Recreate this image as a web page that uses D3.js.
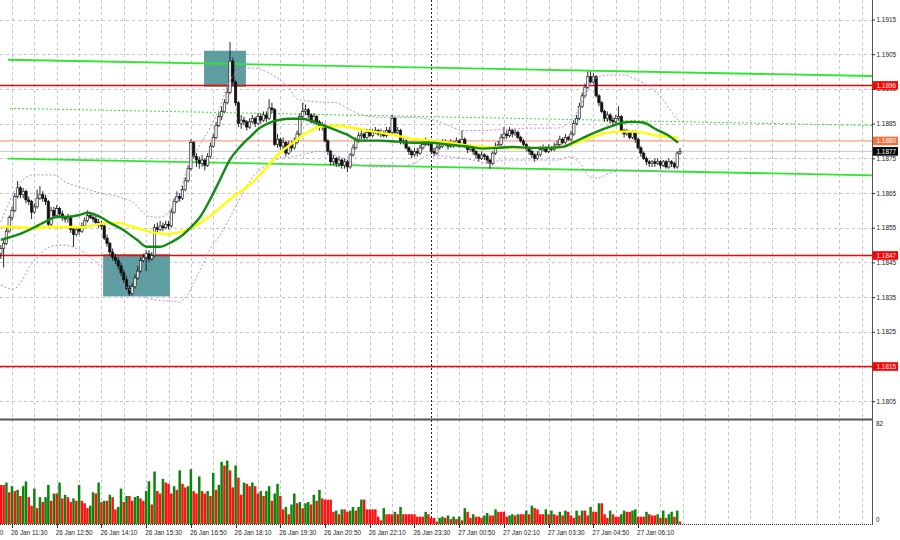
<!DOCTYPE html>
<html><head><meta charset="utf-8">
<script src="https://cdn.jsdelivr.net/npm/d3@7"></script>
<style>
html,body{margin:0;padding:0;background:#fff;}
svg{display:block;font-family:"Liberation Sans",Arial,sans-serif;}
</style></head><body>
<svg id="chart" width="900" height="540"></svg>
<script>
// ---------------- DATA ----------------
const startTime = "26 Jan 11:10";       // time of first visible M5 bar
const priceBase = 1.18;                 // prices below are pips above 1.1800
const firstOpen = 47.5;
const closes = [49,50.5,54,58,60,64,66.5,64.5,65.5,63,
62.5,59.5,61,63.5,64.5,63.5,62.5,56,60,58.5,
60.5,59,58,57.5,58,54.5,53,54.5,54,55.5,
57,58.5,58,57.5,56.5,56,55.5,52,50.5,48,
46.5,45.5,44,42,40,37.5,36,38,40.5,42.5,
45.5,46.5,47.5,46,47,55,54.5,55.5,55,56,
55.5,59.5,62.5,64,63.5,66,68.5,72,79.5,75.5,
74.5,73.5,74.5,73,75.5,78.5,81,84.5,87,88.5,
91,94,103,97,91,85,86,85.5,84,85.5,
86.5,85,87,86,87.5,86.5,89.5,89,79,80.5,
78.5,79.5,76.5,79,78,79.5,82,87,88.5,89,
87.5,86,87,85.5,84,84.5,80,77,74,75,
73.5,74.5,73,74,72.5,76,78,80,81.5,82,
81,82.5,81.5,82.5,83,82,82.5,81.5,83,82.5,
86.5,82.5,83,79.5,80,78,77,76,77,76.5,
78,79,80,79,77,76.5,78,78.5,79.5,79,
78.5,79.5,79,80,79,80.5,78.5,77.5,78,77,
76,75,76,75.5,74.5,73.5,76.5,78.5,79,81,
82,81.5,83,82,82.5,81,80,79,78,77,
76,75,76,77.5,78,77,78,77.5,78.5,79,
80.5,79.5,81,80.5,82,85,86.5,90,93,95.5,
98.5,97,98.5,93,91,88.5,86.5,87.5,86,85.5,
86.5,87,83,82,82.5,81,82.5,80.5,78,76.5,
75,74,73.5,74,73.5,74,73,74,72.5,74,
73.5,72.5,76.5,77];
const highs = [50,51.5,55,58.5,61,65,68.5,67,66.5,66,
64,63,62,66,67,65.5,64.5,63,61,61,
61.5,61,60,58.5,59,58.5,55,55.5,55,56.5,
58,60,59.5,59,58.5,57.5,57,56,53,51,
49,47.5,46.5,45,43,41,38.5,39,41.5,44,
46.5,47.5,48.5,48.5,48,56,56.5,57,56.5,57,
57,60.5,63.5,65.5,65,67,69.5,73,80.5,80,
76.5,75.5,76,75,76.5,79.5,82,85.5,88,90,
92,95.5,108.5,104,97.5,91.5,87.5,87,86,86.5,
87.5,87,88,88,88.5,88.5,92,91,89.5,82,
81,81,80,80,80,81,83,88,91,90.5,
89.5,88,88,87.5,86,85.5,85,80.5,77.5,76,
75.5,75.5,75,75,74.5,76.5,79,81,82.5,83.5,
82.5,83.5,83.5,83.5,84,83.5,83.5,83,84,84,
87.5,87,84,83.5,81,80.5,78.5,77.5,78,78,
79,80,81,80.5,79.5,78,79,79.5,80.5,80.5,
80,80.5,80,81,80.5,83,81,79,79,78.5,
77.5,76.5,77,76.5,76,75,77,79.5,80,82,
84,83,84,83.5,83.5,83,81.5,80.5,79.5,78.5,
77.5,76.5,77,78.5,79,78.5,79,78.5,79.5,80,
81.5,81,82,81.5,83,86,87.5,91,94,96.5,
100,100,99.5,99,93.5,91.5,89,88.5,88,87,
87.5,90,87.5,83.5,83.5,83,83,83,81,78.5,
77,75.5,74.5,74.5,75,75,74.5,74.5,74.5,75,
74.5,74,77,78];
const lows = [46,43.5,50,53.5,57,59.5,63.5,63.5,63.5,62,
61.5,57.5,59,60.5,63,62.5,61.5,55.5,55.5,58,
58,58,57,56.5,56.5,53.5,49.5,52.5,53,53.5,
55,56.5,57.5,56.5,56,55,54.5,51.5,49.5,47,
45.5,44.5,43,41,39,37,35.3,35.5,37.5,40,
42,45,42.5,45,45.5,46.5,53.5,54,54,54.5,
54.5,55,59,62,62.5,63,65.5,68,71.5,75,
72.5,72,72.5,71.5,72.5,75,78,80.5,84,86,
88,90.5,93.5,96,90,84,83.5,84.5,83,83.5,
85,84,84.5,85,85.5,85.5,86,88,78.5,78,
77.5,77.5,75.5,76,77,77.5,79,81.5,86.5,87.5,
86.5,85,85,84.5,83,83,79.5,76,73,73,
72.5,72.5,72,72,71,72,75.5,77.5,79.5,80.5,
80,80.5,81,81,82,81.5,81,81,81,82,
82,82,82,79,79,77.5,76,75,75.5,75.5,
76,77.5,78.5,78.5,76.5,75.5,76,77.5,78,78.5,
77.5,78,78,78.5,78,78.5,78,76.5,77,76,
75,74,74.5,74.5,73.5,72,73,76,78,78.5,
80.5,80.5,81,81,81.5,80.5,79.5,78.5,77,76,
75,74,74.5,75.5,77,76.5,76.5,77,77,78,
78.5,79,79,80,80,81.5,84.5,86,89.5,92.5,
95,96.5,96.5,92.5,90,88,85.5,85.5,85,84.5,
85,86,82.5,81,81.5,80.5,80.5,79.5,77.5,75.5,
74.5,73,72.5,72.5,72.5,73,72,72.5,72,72,
72.5,72,72,76];
const volumes = [32,32,34,26,31,27,28,23,31,35,
22,15,29,13,22,18,22,32,19,25,
25,34,21,24,22,18,21,19,32,19,
17,13,15,26,25,34,18,19,19,24,
22,12,14,29,18,23,23,19,22,23,
21,19,27,35,16,43,27,25,37,34,
33,25,31,28,44,33,30,31,45,27,
25,39,27,25,27,23,42,28,32,51,
48,52,44,30,48,38,24,34,33,31,
34,31,25,27,23,27,31,19,25,33,
23,12,14,8,16,25,17,18,13,17,
18,16,24,19,28,21,20,20,20,10,
11,8,12,12,10,11,14,11,14,20,
20,12,12,12,12,6,3,13,8,8,
8,10,8,14,8,8,8,8,8,6,
6,6,10,8,5,5,2,5,6,5,
7,4,6,4,6,3,13,10,5,8,
6,6,5,7,9,7,7,12,10,10,
10,6,7,8,7,8,8,8,11,8,
15,13,12,8,8,12,8,11,8,7,
10,7,11,10,7,5,11,7,11,11,
7,14,10,10,17,17,8,5,11,8,
6,6,8,11,10,10,11,12,6,6,
6,10,8,7,7,8,5,11,5,8,
10,6,11,2];
// moving averages: [bar index, pips]
const greenMA = [[0,51.5],[6.9,53.2],[11.5,54.9],[15.1,56.4],[20.1,58.1],[23.7,58.1],[28.3,58.7],[31.2,59.3],[35.5,58.1],[39.1,56.4],[43.7,54.4],[48.7,51.5],[52.3,49.5],[56.9,49.5],[60.5,50.6],[64.1,52.3],[67.7,54.9],[71.3,58.1],[74.8,63.0],[78.4,68.8],[82,74.6],[85.6,78.3],[89.2,81.2],[92.7,83.8],[96.3,85.3],[99.9,86.1],[103.5,86.4],[108.1,86.4],[111.7,85.5],[117.8,83.8],[123.9,81.8],[128.5,80.1],[135.7,80.1],[141.7,79.8],[147.5,79.5],[153.6,79.5],[160.7,78.9],[167.9,78.3],[172.5,77.8],[177.5,78.0],[183.3,78.3],[189.3,78.0],[195.4,78.0],[201.1,78.3],[204.7,79.5],[208.3,80.9],[213.3,82.7],[218,84.1],[222.6,85.3],[226.2,85.5],[229.8,85.3],[234.8,83.2],[238.4,81.8],[242.3,79.5]];
const yellowMA = [[0,55.2],[5.8,55.2],[11.5,54.9],[17.6,55.2],[23.7,55.2],[29.4,55.2],[35.5,56.1],[41.6,56.4],[47.3,55.2],[53.4,53.8],[59.5,53.2],[64.1,53.8],[68.8,55.2],[73.8,57.8],[78.4,60.7],[83.1,63.9],[88.1,66.8],[92.7,70.2],[97.4,74.6],[99.9,76.6],[104.5,79.5],[109.5,82.4],[114.2,84.1],[118.8,84.4],[123.9,84.1],[129.6,83.2],[135.7,82.4],[141.7,81.5],[147.5,80.6],[153.6,80.1],[160.7,79.5],[167.9,78.6],[175,78.3],[182.2,78.0],[189.3,78.0],[196.5,78.0],[201.1,78.3],[206.1,79.5],[210.8,80.9],[215.4,82.1],[220.5,82.7],[225.1,82.7],[229.8,82.4],[234.8,81.5],[239.4,81.2],[242.3,80.9]];
// Bollinger bands: [bar index, pips]
const bbUpper = [[0,56.6],[6.9,67.9],[11.5,70.2],[18.7,70.2],[23.7,67.9],[28.3,66.7],[35.5,65],[42.6,63.8],[47.3,62.4],[53,58.2],[57,58],[60,59.5],[64,65.5],[67,72.5],[71,78.5],[75,84],[78,89],[82,97.5],[86,100.5],[90,101],[95,100],[100,97.5],[103,95.5],[106,92],[110,91.5],[114,91.2],[120,91],[124,89.5],[128,87.8],[132,87],[136,86.8],[145,86.8],[154,86.2],[160,84.5],[165.4,83],[171,83],[177.5,83.2],[183,83.4],[189.3,83.7],[199,83.7],[204.7,86.5],[208.3,91.5],[211.9,97.5],[216.9,99],[222.6,99],[227.6,97.6],[232.3,95.5],[236.9,92],[239.4,89],[242.3,86]];
const bbLower = [[0,38.5],[4.4,37.3],[11.5,45],[17.6,49.5],[22.2,50],[29.4,48],[35.5,44],[41.6,40],[47.3,36.5],[53.4,34.5],[57,34],[61.6,33.8],[64.1,33.6],[66.6,35.5],[69,39],[72,44],[75,49],[79,53.5],[82,58],[86,64],[90,69.5],[95,73],[100,75],[105,75.5],[110,76.5],[114,77],[118,76.5],[121,75.5],[124,74.5],[128,73],[135,72.5],[141,72.5],[147.5,73.5],[153.6,76],[160.7,75.4],[169,74.5],[174,73.6],[180,74.5],[189.3,74.5],[199,74.5],[203.6,75.4],[207.2,73.6],[210.8,69.6],[213.3,69.3],[218,70.8],[222.6,71.6],[227.6,71.6],[232.3,71.6],[236.9,71.1],[242.3,71.3]];
// trend lines (two anchor points each: [bar, pips]) - drawn as rays to the right
const trendLines = [
  {pts:[[2.6,103.4],[246.6,99.7]], dotted:false},
  {pts:[[2.6,74.9],[246.6,71.1]], dotted:false},
  {pts:[[3.3,89.4],[246.6,85.5]], dotted:true}
];
const redLevels = [1.1896, 1.1847, 1.1815];
const orangeLevel = 1.1880;
const bidLevel = 1.1877;
const zones = [{b0:36.6,b1:60.5,p0:47.4,p1:35.2},{b0:72.7,b1:87.7,p0:106.0,p1:95.6}];
const priceTicks = [1.1805,1.1815,1.1825,1.1835,1.1845,1.1855,1.1865,1.1875,1.1885,1.1895,1.1905,1.1915];
const timeLabels = ["26 Jan 10:10","26 Jan 11:30","26 Jan 12:50","26 Jan 14:10","26 Jan 15:30","26 Jan 16:50","26 Jan 18:10","26 Jan 19:30","26 Jan 20:50","26 Jan 22:10","26 Jan 23:30","27 Jan 00:50","27 Jan 02:10","27 Jan 03:30","27 Jan 04:50","27 Jan 06:10"];
const gridStart = "26 Jan 10:50";
const daySeparator = "27 Jan 00:00";
const volMax = 82;

// ---------------- SCALES ----------------
const parse = d3.utcParse("%d %b %H:%M");
const t0 = parse(startTime);
const barTime = j => new Date(t0.getTime() + j * 5 * 60000);
const nBars = closes.length;
const x = d3.scaleUtc().domain([barTime(0), barTime(nBars - 1)]).range([0.82, 0.82 + 2.795 * (nBars - 1)]);
const xb = j => x(barTime(j));
const y = d3.scaleLinear().domain([1.1805, 1.1915]).range([401.2, 19.5]);
const yp = p => y(priceBase + p / 10000);
const v = d3.scaleLinear().domain([0, volMax]).range([524, 424]);

const RIGHT = 872, MAIN_BOTTOM = 419, VOL_TOP = 421, VOL_BOTTOM = 524;

const svg = d3.select("#chart");
const defs = svg.append("defs");
defs.append("clipPath").attr("id", "clipMain").append("rect").attr("x", 0).attr("y", 0).attr("width", RIGHT).attr("height", MAIN_BOTTOM);
defs.append("clipPath").attr("id", "clipVol").append("rect").attr("x", 0).attr("y", VOL_TOP).attr("width", RIGHT).attr("height", VOL_BOTTOM - VOL_TOP);

// ---------------- GRID ----------------
const grid = svg.append("g");
const gStart = parse(gridStart);
const gridTimes = d3.range(0, 40).map(k => new Date(gStart.getTime() + k * 40 * 60000)).filter(t => x(t) > 0 && x(t) < RIGHT);
grid.selectAll("line.vg").data(gridTimes).join("line")
  .attr("x1", d => Math.round(x(d)) + 0.5).attr("x2", d => Math.round(x(d)) + 0.5)
  .attr("y1", 0).attr("y2", VOL_BOTTOM)
  .attr("stroke", "#c4c4c4").attr("stroke-dasharray", "3,3");
grid.selectAll("line.hg").data(priceTicks).join("line")
  .attr("x1", 0).attr("x2", RIGHT)
  .attr("y1", d => Math.round(y(d)) + 0.5).attr("y2", d => Math.round(y(d)) + 0.5)
  .attr("stroke", "#c4c4c4").attr("stroke-dasharray", "3,3");

// day separator
const sepX = Math.round(x(parse(daySeparator))) + 0.5;
svg.append("line").attr("x1", sepX).attr("x2", sepX).attr("y1", 0).attr("y2", VOL_BOTTOM)
  .attr("stroke", "#222").attr("stroke-dasharray", "2,2");

// ---------------- MAIN PANEL ----------------
const main = svg.append("g").attr("clip-path", "url(#clipMain)");

main.selectAll("rect.zone").data(zones).join("rect")
  .attr("x", d => xb(d.b0)).attr("width", d => xb(d.b1) - xb(d.b0))
  .attr("y", d => yp(d.p0)).attr("height", d => yp(d.p1) - yp(d.p0))
  .attr("fill", "#5f9ea0");

main.selectAll("line.red").data(redLevels).join("line")
  .attr("x1", 0).attr("x2", RIGHT).attr("y1", d => y(d)).attr("y2", d => y(d))
  .attr("stroke", "#ff0000").attr("stroke-width", 1.4);
main.append("line").attr("x1", 0).attr("x2", RIGHT).attr("y1", y(orangeLevel)).attr("y2", y(orangeLevel))
  .attr("stroke", "#f58a62").attr("stroke-width", 1);
main.append("line").attr("x1", 0).attr("x2", RIGHT).attr("y1", y(bidLevel)).attr("y2", y(bidLevel))
  .attr("stroke", "#c8c8c8").attr("stroke-width", 1);

// trend rays
trendLines.forEach(tl => {
  const [a, b] = tl.pts;
  const x1 = xb(a[0]), y1 = yp(a[1]), x2 = xb(b[0]), y2 = yp(b[1]);
  const slope = (y2 - y1) / (x2 - x1);
  main.append("line").attr("x1", x1).attr("y1", y1).attr("x2", RIGHT).attr("y2", y1 + slope * (RIGHT - x1))
    .attr("stroke", "#2ee62e").attr("stroke-width", tl.dotted ? 1 : 1.8)
    .attr("stroke-dasharray", tl.dotted ? "2,2" : null);
});

// candles
const bars = closes.map((c, j) => ({
  j, o: j === 0 ? firstOpen : closes[j - 1], c, h: highs[j], l: lows[j]
}));
const cg = main.append("g");
cg.selectAll("line.wick").data(bars).join("line")
  .attr("x1", d => xb(d.j)).attr("x2", d => xb(d.j))
  .attr("y1", d => yp(d.h)).attr("y2", d => yp(d.l))
  .attr("stroke", "#111").attr("stroke-width", 0.9);
cg.selectAll("rect.body").data(bars).join("rect")
  .attr("x", d => xb(d.j) - 1.2).attr("width", 2.4)
  .attr("y", d => yp(Math.max(d.o, d.c)))
  .attr("height", d => Math.max(0.6, Math.abs(yp(d.o) - yp(d.c))))
  .attr("fill", d => d.c >= d.o ? "#f4f4f4" : "#111")
  .attr("stroke", "#111").attr("stroke-width", 0.6);

// Bollinger bands
const smooth = d3.line().x(d => xb(d[0])).y(d => yp(d[1])).curve(d3.curveMonotoneX);
[bbUpper, bbLower].forEach(b => {
  main.append("path").attr("d", smooth(b)).attr("fill", "none")
    .attr("stroke", "#c08ae8").attr("stroke-width", 1).attr("stroke-dasharray", "2,2");
});
// moving averages
main.append("path").attr("d", smooth(yellowMA)).attr("fill", "none")
  .attr("stroke", "#ffff00").attr("stroke-width", 2.4);
main.append("path").attr("d", smooth(greenMA)).attr("fill", "none")
  .attr("stroke", "#138a13").attr("stroke-width", 2.4);

// ---------------- VOLUME PANEL ----------------
const vol = svg.append("g").attr("clip-path", "url(#clipVol)");
vol.selectAll("rect").data(volumes).join("rect")
  .attr("x", (d, j) => xb(j) - 1.25).attr("width", 2.5)
  .attr("y", d => v(d)).attr("height", d => v(0) - v(d))
  .attr("fill", (d, j) => (j > 0 && d > volumes[j - 1]) ? "#0a870a" : "#ff1111");

// ---------------- FRAMES ----------------
svg.append("line").attr("x1", 0).attr("x2", RIGHT).attr("y1", MAIN_BOTTOM + 0.5).attr("y2", MAIN_BOTTOM + 0.5)
  .attr("stroke", "#555").attr("stroke-width", 2);
svg.append("line").attr("x1", 0).attr("x2", RIGHT).attr("y1", VOL_BOTTOM + 0.5).attr("y2", VOL_BOTTOM + 0.5)
  .attr("stroke", "#333").attr("stroke-dasharray", "1,1");
svg.append("line").attr("x1", RIGHT + 0.5).attr("x2", RIGHT + 0.5).attr("y1", 0).attr("y2", VOL_BOTTOM + 1)
  .attr("stroke", "#555").attr("stroke-width", 1);

// ---------------- AXES ----------------
const fontSize = 6.4;
const yAxis = svg.append("g").attr("transform", `translate(${RIGHT},0)`)
  .call(d3.axisRight(y).tickValues(priceTicks).tickSize(3).tickFormat(d3.format(".4f")));
yAxis.select(".domain").remove();
yAxis.selectAll("text").attr("font-size", fontSize).attr("fill", "#222").attr("x", 4.5)
  .attr("font-family", "'Liberation Sans',Arial,sans-serif");
yAxis.selectAll("line").attr("stroke", "#333");

// level label boxes
const boxes = redLevels.map(p => ({p, bg: "#ff0000"}))
  .concat([{p: orangeLevel, bg: "#f4703c"}, {p: bidLevel, bg: "#000000"}]);
const bx = svg.append("g");
boxes.forEach(b => {
  bx.append("rect").attr("x", RIGHT + 1).attr("y", y(b.p) - 4.3).attr("width", 25).attr("height", 8.6).attr("fill", b.bg);
  bx.append("text").attr("x", RIGHT + 4.5).attr("y", y(b.p)).attr("dy", "0.35em")
    .attr("font-size", fontSize).attr("fill", "#fff").text(d3.format(".4f")(b.p));
});

// volume labels
svg.append("text").attr("x", RIGHT + 4).attr("y", v(volMax)).attr("dy", "0.35em").attr("font-size", fontSize).attr("fill", "#222").text(volMax);
svg.append("text").attr("x", RIGHT + 4).attr("y", v(0) - 4).attr("dy", "0.35em").attr("font-size", fontSize).attr("fill", "#222").text("0");

// time axis
const tickTimes = timeLabels.map(s => parse(s));
const xg = svg.append("g");
xg.selectAll("line").data(tickTimes).join("line")
  .attr("x1", d => Math.round(x(d)) + 0.5).attr("x2", d => Math.round(x(d)) + 0.5)
  .attr("y1", VOL_BOTTOM).attr("y2", VOL_BOTTOM + 4).attr("stroke", "#333");
xg.selectAll("text").data(timeLabels).join("text")
  .attr("x", (d, i) => x(tickTimes[i]) - 1).attr("y", 534.5)
  .attr("font-size", fontSize).attr("fill", "#222").text(d => d);
</script>
</body></html>
